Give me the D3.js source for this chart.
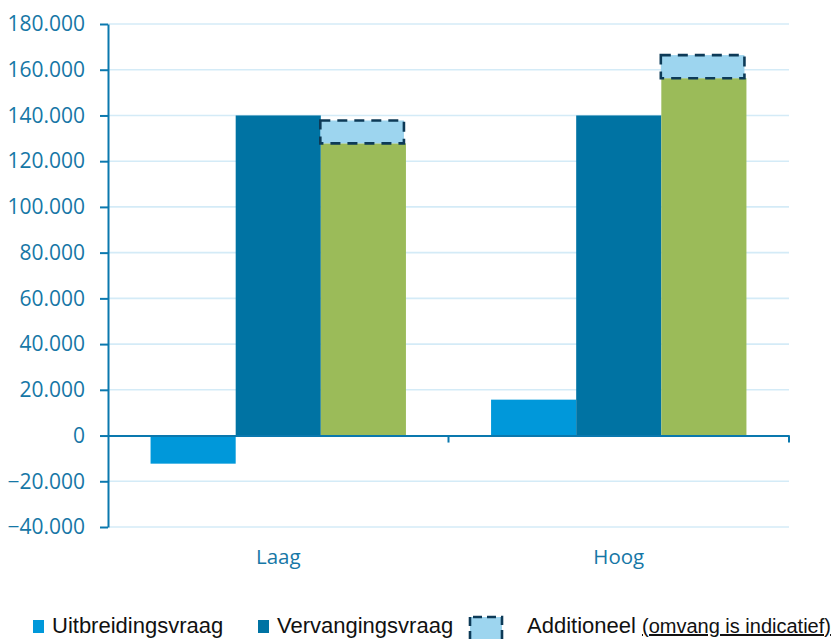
<!DOCTYPE html>
<html>
<head>
<meta charset="utf-8">
<script src="https://cdn.jsdelivr.net/npm/d3@7"></script>
<style>
  html, body { margin: 0; padding: 0; background: #fff; }
  svg { display: block; }
</style>
</head>
<body>
<svg id="chart" width="833" height="639"></svg>
<script>
// Scenario categories and the demand series (number of people)
const categories = ["Laag", "Hoog"];
const seriesNames = ["Uitbreidingsvraag", "Vervangingsvraag", "Totaal"];
const uitbreidingsvraag = [-12300, 15700];
const vervangingsvraag = [140000, 140000];
const totaal = [127800, 156300];
// Indicative additional demand stacked on top of the total
const additioneel = [10000, 10100];
const yTicks = [-40000, -20000, 0, 20000, 40000, 60000, 80000, 100000, 120000, 140000, 160000, 180000];

const colors = {
  Uitbreidingsvraag: "#0098da",
  Vervangingsvraag: "#0073a3",
  Totaal: "#9bbb59"
};
const axisColor = "#0a78ae";
const labelColor = "#1677a6";

const svg = d3.select("#chart");
const margin = { left: 108, right: 44, top: 24, bottom: 112 };
const W = 833, H = 639;

const y = d3.scaleLinear().domain([-40000, 180000]).range([H - margin.bottom, margin.top]);
const x = d3.scaleBand().domain(categories).range([margin.left, W - margin.right]).paddingInner(0).paddingOuter(0);
const xs = d3.scaleBand().domain(seriesNames).range([0, x.bandwidth()]).paddingInner(0).paddingOuter(0.5);

const fmt = v => d3.format(",")(v).replace(/,/g, ".");

// gridlines
svg.append("g").selectAll("line").data(yTicks.filter(t => t !== 0)).join("line")
  .attr("x1", margin.left).attr("x2", W - margin.right)
  .attr("y1", d => y(d)).attr("y2", d => y(d))
  .attr("stroke", "#d4ebf7").attr("stroke-width", 1.6);

// bars
const rows = categories.map((c, i) => ({
  cat: c,
  values: [
    { key: "Uitbreidingsvraag", v: uitbreidingsvraag[i] },
    { key: "Vervangingsvraag", v: vervangingsvraag[i] },
    { key: "Totaal", v: totaal[i] }
  ],
  extra: additioneel[i],
  base: totaal[i]
}));

const groups = svg.append("g").selectAll("g").data(rows).join("g")
  .attr("transform", d => `translate(${x(d.cat)},0)`);

groups.selectAll("rect.bar").data(d => d.values).join("rect")
  .attr("class", "bar")
  .attr("x", d => xs(d.key))
  .attr("width", xs.bandwidth())
  .attr("y", d => y(Math.max(0, d.v)))
  .attr("height", d => Math.abs(y(d.v) - y(0)))
  .attr("fill", d => colors[d.key]);

// additional (indicative) segment, dashed outline
groups.append("rect")
  .attr("x", xs("Totaal") - 0.5)
  .attr("width", xs.bandwidth() - 1.5)
  .attr("y", d => y(d.base + d.extra))
  .attr("height", d => y(d.base) - y(d.base + d.extra))
  .attr("fill", "#9dd5ef")
  .attr("stroke", "#0d3a57")
  .attr("stroke-width", 2.6)
  .attr("stroke-dasharray", "10,7");

// y axis
const yAxis = svg.append("g")
  .attr("transform", `translate(${margin.left},0)`)
  .call(d3.axisLeft(y).tickValues(yTicks).tickFormat(fmt).tickSize(8).tickPadding(15).tickSizeOuter(0));
yAxis.select(".domain").attr("stroke", axisColor).attr("stroke-width", 2);
yAxis.selectAll(".tick line").attr("stroke", axisColor).attr("stroke-width", 2);
yAxis.selectAll(".tick text")
  .attr("fill", labelColor)
  .style("font-family", "'Open Sans', sans-serif")
  .style("font-size", "21px");

// x axis at zero
const xAxis = svg.append("g")
  .attr("transform", `translate(0,${y(0)})`)
  .call(d3.axisBottom(x).tickSize(0).tickPadding(0));
xAxis.select(".domain").attr("stroke", axisColor).attr("stroke-width", 2);
xAxis.selectAll(".tick text").remove();
// boundary ticks between categories
svg.append("g").selectAll("line").data([x("Hoog"), W - margin.right]).join("line")
  .attr("x1", d => d).attr("x2", d => d)
  .attr("y1", y(0)).attr("y2", y(0) + 7)
  .attr("stroke", axisColor).attr("stroke-width", 2);

// category labels below the plot
svg.append("g").selectAll("text").data(categories).join("text")
  .attr("x", d => x(d) + x.bandwidth() / 2)
  .attr("y", 564)
  .attr("text-anchor", "middle")
  .attr("fill", labelColor)
  .style("font-family", "'Open Sans', sans-serif")
  .style("font-size", "20.5px")
  .text(d => d);

// legend
const lg = svg.append("g").style("font-family", "'Liberation Sans', Arial, sans-serif").attr("fill", "#111");
const legendItems = [
  { key: "Uitbreidingsvraag", x: 33 },
  { key: "Vervangingsvraag", x: 258 }
];
legendItems.forEach(it => {
  lg.append("rect").attr("x", it.x).attr("y", 620).attr("width", 11).attr("height", 13).attr("fill", colors[it.key]);
  lg.append("text").attr("x", it.x + 19).attr("y", 633).style("font-size", "22px").text(it.key);
});
lg.append("rect")
  .attr("x", 470).attr("y", 617).attr("width", 32).attr("height", 30)
  .attr("fill", "#9dd5ef").attr("stroke", "#0d3a57").attr("stroke-width", 2.6)
  .attr("stroke-dasharray", "9,5").attr("stroke-dashoffset", -3);
const t = lg.append("text").attr("x", 527).attr("y", 633).style("font-size", "22px");
t.append("tspan").text("Additioneel ");
t.append("tspan").style("font-size", "20px").style("text-decoration", "underline").text("(omvang is indicatief)");
</script>
</body>
</html>
